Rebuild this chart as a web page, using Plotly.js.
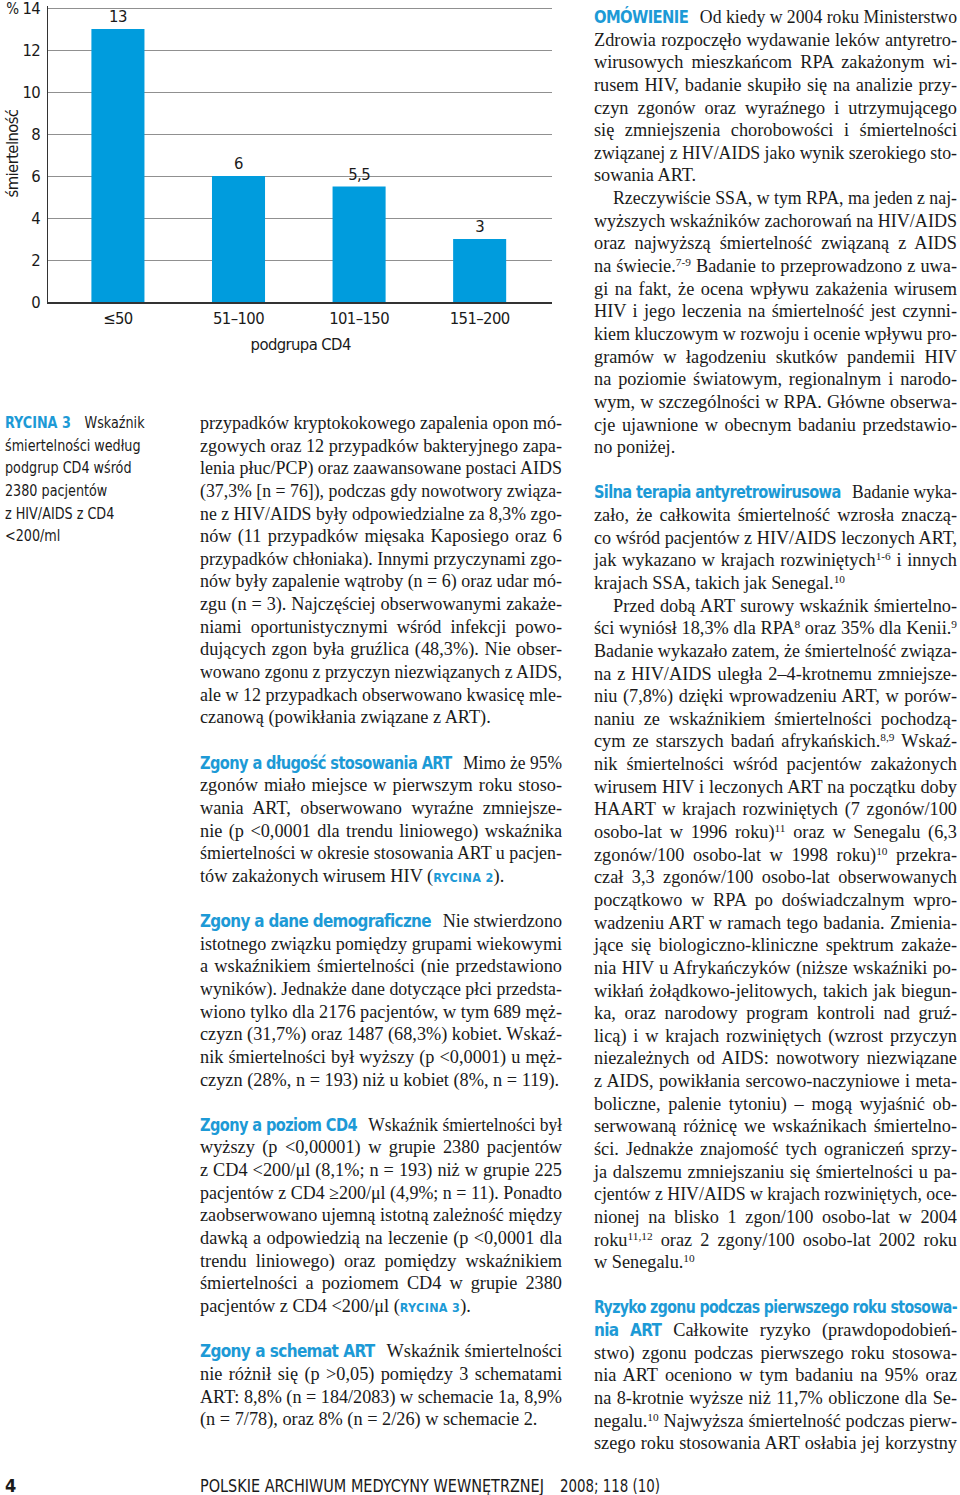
<!DOCTYPE html>
<html lang="pl">
<head>
<meta charset="utf-8">
<script src="https://cdn.plot.ly/plotly-3.0.1.min.js"></script>
<style>
  html, body { margin:0; padding:0; background:#fff; }
  body { position:relative; width:960px; height:1495px; overflow:hidden; }
  #chart { position:absolute; left:0; top:0; width:565px; height:360px; }
  #chart text { letter-spacing:-0.6px; }
  .ln { position:absolute; font-family:"Liberation Serif", "Times New Roman", serif; font-size:18.3px; line-height:22.64px; color:#1a1a1a; white-space:nowrap; }
  .h { font-family:"Liberation Sans Narrow","DejaVu Sans Condensed","Arial Narrow",sans-serif; font-weight:bold; color:#1d9ad6; font-size:17px; letter-spacing:-0.65px; margin-right:12px; }
  .h.full { margin-right:0; }
  .r { font-family:"Liberation Sans Narrow","DejaVu Sans Condensed",sans-serif; font-weight:bold; color:#1d9ad6; font-size:12.5px; letter-spacing:0.3px; }
  sup { font-size:0.62em; line-height:0; vertical-align:0.55em; }
  .sans { position:absolute; font-family:"Liberation Sans Narrow","DejaVu Sans Condensed","Arial Narrow",sans-serif; color:#1a1a1a; white-space:nowrap; transform-origin:0 0; }
  .cap { font-size:16.5px; line-height:22.64px; }
  .capH { color:#1d9ad6; font-weight:bold; margin-right:16px; }
</style>
</head>
<body>
<div id="chart"></div>
<script>
// ---------------- chart data ----------------
const categories = ['≤50', '51–100', '101–150', '151–200'];
const mortality = [13, 6, 5.5, 3];
const valueLabels = ['13', '6', '5,5', '3'];
const yTickVals = [0, 2, 4, 6, 8, 10, 12, 14];
const yTickText = ['0', '2', '4', '6', '8', '10', '12', '14'];
const yAxisTitle = 'śmiertelność';
const yUnit = '%';
const xAxisTitle = 'podgrupa CD4';

const SANS = '"Liberation Sans Narrow","DejaVu Sans Condensed","Arial Narrow",sans-serif';
const FS = 16.5;

Plotly.newPlot('chart', [{
  type: 'bar',
  x: categories,
  y: mortality,
  width: 0.44,
  marker: { color: '#009cdd', line: { width: 0 } },
  text: valueLabels,
  textposition: 'outside',
  textfont: { family: SANS, size: FS, color: '#1a1a1a' },
  cliponaxis: false,
  hoverinfo: 'skip'
}], {
  width: 565, height: 360,
  margin: { l: 48, r: 13, t: 6, b: 58 },
  paper_bgcolor: 'rgba(0,0,0,0)',
  plot_bgcolor: '#ffffff',
  showlegend: false,
  font: { family: SANS, size: FS, color: '#1a1a1a' },
  xaxis: {
    type: 'category', range: [-0.58, 3.6],
    showline: true, linecolor: '#333', linewidth: 1.5,
    showgrid: false, zeroline: false, ticks: '',
    tickfont: { family: SANS, size: FS, color: '#1a1a1a' },
    ticklabelstandoff: 1, fixedrange: true
  },
  yaxis: {
    range: [0, 14.1], tickvals: yTickVals, ticktext: yTickText,
    showline: true, linecolor: '#333', linewidth: 1.5,
    showgrid: true, gridcolor: '#909090', gridwidth: 1,
    zeroline: false, ticks: '',
    tickfont: { family: SANS, size: FS, color: '#1a1a1a' },
    ticklabeloverflow: 'allow',
    ticklabelstandoff: 3, fixedrange: true
  },
  annotations: [
    { text: yUnit, xref: 'paper', yref: 'paper', x: -0.0714, y: 0.993, yshift: -1, xanchor: 'center', yanchor: 'middle', showarrow: false, font: { family: SANS, size: 15, color: '#1a1a1a' } },
    { text: yAxisTitle, xref: 'paper', yref: 'paper', x: -0.0714, y: 0.5, textangle: -90, xanchor: 'center', yanchor: 'middle', showarrow: false, font: { family: SANS, size: FS, color: '#1a1a1a' } },
    { text: xAxisTitle, xref: 'paper', yref: 'paper', x: 0.5, y: -0.142, xanchor: 'center', yanchor: 'middle', showarrow: false, font: { family: SANS, size: FS, color: '#1a1a1a' } }
  ]
}, { staticPlot: true, displayModeBar: false });

// ---------------- page text ----------------
const captionLines = [
  '<span class="capH">RYCINA 3</span>Wskaźnik',
  'śmiertelności według',
  'podgrup CD4 wśród',
  '2380 pacjentów',
  'z HIV/AIDS z CD4',
  '&lt;200/ml'
];

const middleLines = [
  'przypadków kryptokokowego zapalenia opon mó-',
  'zgowych oraz 12 przypadków bakteryjnego zapa-',
  'lenia płuc/PCP) oraz zaawansowane postaci AIDS',
  '(37,3% [n = 76]), podczas gdy nowotwory związa-',
  'ne z HIV/AIDS były odpowiedzialne za 8,3% zgo-',
  'nów (11 przypadków mięsaka Kaposiego oraz 6',
  'przypadków chłoniaka). Innymi przyczynami zgo-',
  'nów były zapalenie wątroby (n = 6) oraz udar mó-',
  'zgu (n = 3). Najczęściej obserwowanymi zakaże-',
  'niami oportunistycznymi wśród infekcji powo-',
  'dujących zgon była gruźlica (48,3%). Nie obser-',
  'wowano zgonu z przyczyn niezwiązanych z AIDS,',
  'ale w 12 przypadkach obserwowano kwasicę mle-',
  '§czanową (powikłania związane z ART).',
  '',
  '{H:Zgony a długość stosowania ART}Mimo że 95%',
  'zgonów miało miejsce w pierwszym roku stoso-',
  'wania ART, obserwowano wyraźne zmniejsze-',
  'nie (p &lt;0,0001 dla trendu liniowego) wskaźnika',
  'śmiertelności w okresie stosowania ART u pacjen-',
  '§tów zakażonych wirusem HIV ({R:RYCINA 2}).',
  '',
  '{H:Zgony a dane demograficzne}Nie stwierdzono',
  'istotnego związku pomiędzy grupami wiekowymi',
  'a wskaźnikiem śmiertelności (nie przedstawiono',
  'wyników). Jednakże dane dotyczące płci przedsta-',
  'wiono tylko dla 2176 pacjentów, w tym 689 męż-',
  'czyzn (31,7%) oraz 1487 (68,3%) kobiet. Wskaź-',
  'nik śmiertelności był wyższy (p &lt;0,0001) u męż-',
  '§czyzn (28%, n = 193) niż u kobiet (8%, n = 119).',
  '',
  '{H:Zgony a poziom CD4}Wskaźnik śmiertelności był',
  'wyższy (p &lt;0,00001) w grupie 2380 pacjentów',
  'z CD4 &lt;200/μl (8,1%; n = 193) niż w grupie 225',
  'pacjentów z CD4 ≥200/μl (4,9%; n = 11). Ponadto',
  'zaobserwowano ujemną istotną zależność między',
  'dawką a odpowiedzią na leczenie (p &lt;0,0001 dla',
  'trendu liniowego) oraz pomiędzy wskaźnikiem',
  'śmiertelności a poziomem CD4 w grupie 2380',
  '§pacjentów z CD4 &lt;200/μl ({R:RYCINA 3}).',
  '',
  '{H:Zgony a schemat ART}Wskaźnik śmiertelności',
  'nie różnił się (p &gt;0,05) pomiędzy 3 schematami',
  'ART: 8,8% (n = 184/2083) w schemacie 1a, 8,9%',
  '§(n = 7/78), oraz 8% (n = 2/26) w schemacie 2.'
];

const rightLines = [
  '{H:OMÓWIENIE}Od kiedy w 2004 roku Ministerstwo',
  'Zdrowia rozpoczęło wydawanie leków antyretro-',
  'wirusowych mieszkańcom RPA zakażonym wi-',
  'rusem HIV, badanie skupiło się na analizie przy-',
  'czyn zgonów oraz wyraźnego i utrzymującego',
  'się zmniejszenia chorobowości i śmiertelności',
  'związanej z HIV/AIDS jako wynik szerokiego sto-',
  '§sowania ART.',
  '»Rzeczywiście SSA, w tym RPA, ma jeden z naj-',
  'wyższych wskaźników zachorowań na HIV/AIDS',
  'oraz najwyższą śmiertelność związaną z AIDS',
  'na świecie.^{7-9} Badanie to przeprowadzono z uwa-',
  'gi na fakt, że ocena wpływu zakażenia wirusem',
  'HIV i jego leczenia na śmiertelność jest czynni-',
  'kiem kluczowym w rozwoju i ocenie wpływu pro-',
  'gramów w łagodzeniu skutków pandemii HIV',
  'na poziomie światowym, regionalnym i narodo-',
  'wym, w szczególności w RPA. Główne obserwa-',
  'cje ujawnione w obecnym badaniu przedstawio-',
  '§no poniżej.',
  '',
  '{H:Silna terapia antyretrowirusowa}Badanie wyka-',
  'zało, że całkowita śmiertelność wzrosła znaczą-',
  'co wśród pacjentów z HIV/AIDS leczonych ART,',
  'jak wykazano w krajach rozwiniętych^{1-6} i innych',
  '§krajach SSA, takich jak Senegal.^{10}',
  '»Przed dobą ART surowy wskaźnik śmiertelno-',
  'ści wyniósł 18,3% dla RPA^{8} oraz 35% dla Kenii.^{9}',
  'Badanie wykazało zatem, że śmiertelność związa-',
  'na z HIV/AIDS uległa 2–4-krotnemu zmniejsze-',
  'niu (7,8%) dzięki wprowadzeniu ART, w porów-',
  'naniu ze wskaźnikiem śmiertelności pochodzą-',
  'cym ze starszych badań afrykańskich.^{8,9} Wskaź-',
  'nik śmiertelności wśród pacjentów zakażonych',
  'wirusem HIV i leczonych ART na początku doby',
  'HAART w krajach rozwiniętych (7 zgonów/100',
  'osobo-lat w 1996 roku)^{11} oraz w Senegalu (6,3',
  'zgonów/100 osobo-lat w 1998 roku)^{10} przekra-',
  'czał 3,3 zgonów/100 osobo-lat obserwowanych',
  'początkowo w RPA po doświadczalnym wpro-',
  'wadzeniu ART w ramach tego badania. Zmienia-',
  'jące się biologiczno-kliniczne spektrum zakaże-',
  'nia HIV u Afrykańczyków (niższe wskaźniki po-',
  'wikłań żołądkowo-jelitowych, takich jak biegun-',
  'ka, oraz narodowy program kontroli nad gruź-',
  'licą) i w krajach rozwiniętych (wzrost przyczyn',
  'niezależnych od AIDS: nowotwory niezwiązane',
  'z AIDS, powikłania sercowo-naczyniowe i meta-',
  'boliczne, palenie tytoniu) – mogą wyjaśnić ob-',
  'serwowaną różnicę we wskaźnikach śmiertelno-',
  'ści. Jednakże znajomość tych ograniczeń sprzy-',
  'ja dalszemu zmniejszaniu się śmiertelności u pa-',
  'cjentów z HIV/AIDS w krajach rozwiniętych, oce-',
  'nionej na blisko 1 zgon/100 osobo-lat w 2004',
  'roku^{11,12} oraz 2 zgony/100 osobo-lat 2002 roku',
  '§w Senegalu.^{10}',
  '',
  '{F:Ryzyko zgonu podczas pierwszego roku stosowa-}',
  '{H:nia ART}Całkowite ryzyko (prawdopodobień-',
  'stwo) zgonu podczas pierwszego roku stosowa-',
  'nia ART oceniono w tym badaniu na 95% oraz',
  'na 8-krotnie wyższe niż 11,7% obliczone dla Se-',
  'negalu.^{10} Najwyższa śmiertelność podczas pierw-',
  'szego roku stosowania ART osłabia jej korzystny'
];

const PITCH = 22.64;

function renderColumn(lines, left, width, y0) {
  lines.forEach((raw, i) => {
    if (raw === '') return;
    let ln = raw, last = false, indent = 0;
    if (ln.startsWith('§')) { last = true; ln = ln.slice(1); }
    if (ln.startsWith('»')) { indent = 19; ln = ln.slice(1); }
    const html = ln
      .replace(/\{H:([^}]*)\}/g, '<span class="h">$1</span>')
      .replace(/\{F:([^}]*)\}/g, '<span class="h full">$1</span>')
      .replace(/\{R:([^}]*)\}/g, '<span class="r">$1</span>')
      .replace(/\^\{([^}]*)\}/g, '<sup>$1</sup>');
    const d = document.createElement('div');
    d.className = 'ln';
    const w = width - indent;
    d.style.left = (left + indent) + 'px';
    d.style.top = (y0 + i * PITCH) + 'px';
    const s = document.createElement('span');
    s.innerHTML = html;
    d.appendChild(s);
    document.body.appendChild(d);
    const nat = s.getBoundingClientRect().width;
    if (nat > w) {
      d.style.transformOrigin = '0 0';
      d.style.transform = 'scaleX(' + (w / nat) + ')';
    } else if (!last) {
      d.style.width = w + 'px';
      d.style.whiteSpace = 'normal';
      d.style.textAlign = 'justify';
      d.style.textAlignLast = 'justify';
    }
  });
}

renderColumn(middleLines, 200, 362, 412);
renderColumn(rightLines, 594, 363, 6);

// caption
captionLines.forEach((ln, i) => {
  const d = document.createElement('div');
  d.className = 'sans cap';
  d.style.left = '5px';
  d.style.top = (412 + i * PITCH) + 'px';
  d.style.transform = 'scaleX(0.86)';
  d.innerHTML = ln;
  document.body.appendChild(d);
});

// footer
function fitText(html, left, top, targetW, size, bold) {
  const d = document.createElement('div');
  d.className = 'sans';
  d.style.left = left + 'px';
  d.style.top = top + 'px';
  d.style.fontSize = size + 'px';
  d.style.lineHeight = '22px';
  if (bold) d.style.fontWeight = 'bold';
  d.innerHTML = html;
  document.body.appendChild(d);
  if (targetW) {
    const nat = d.getBoundingClientRect().width;
    d.style.transform = 'scaleX(' + (targetW / nat) + ')';
  }
}
fitText('4', 5, 1475, 0, 18, true);
fitText('POLSKIE ARCHIWUM MEDYCYNY WEWNĘTRZNEJ', 200, 1475, 344, 18, false);
fitText('2008; 118 (10)', 560, 1475, 100, 18, false);
</script>
</body>
</html>
